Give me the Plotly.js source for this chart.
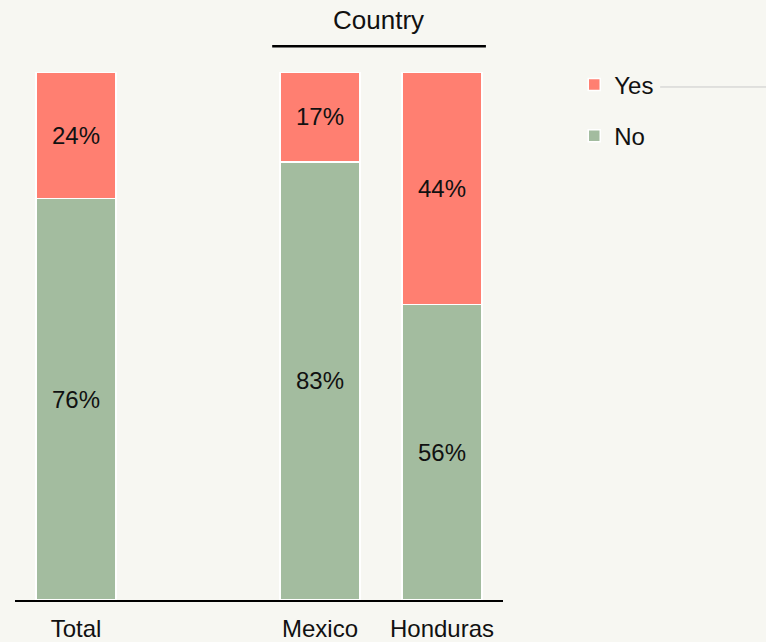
<!DOCTYPE html>
<html>
<head>
<meta charset="utf-8">
<script src="https://cdn.plot.ly/plotly-3.0.1.min.js"></script>
<style>
  html, body { margin: 0; padding: 0; background: #f7f7f2; }
  #chart { width: 766px; height: 642px; }
</style>
</head>
<body>
<div id="chart"></div>
<script>
// Categories along the x axis; the blank slot separates "Total" from the country group
const categories = ['Total', ' ', 'Mexico', 'Honduras'];
// Share of answers, in percent (null for the blank slot)
const noValues  = [76, null, 83, 56];
const yesValues = [24, null, 17, 44];
const seriesNames = ['No', 'Yes'];
const groupTitle = 'Country';

const FONT = 'Liberation Sans, Arial, Helvetica, sans-serif';
const INK = '#111111';

function pctText(vals) {
  return vals.map(v => (v === null ? '' : v + '%'));
}

const common = {
  type: 'bar',
  x: categories,
  textposition: 'inside',
  insidetextanchor: 'middle',
  textangle: 0,
  constraintext: 'none',
  textfont: { family: FONT, size: 24, color: INK },
  hoverinfo: 'skip'
};

const traces = [
  Object.assign({}, common, {
    name: seriesNames[0],
    y: noValues,
    text: pctText(noValues),
    legendgroup: 'no',
    legendrank: 2,
    marker: { color: '#a3bc9f', line: { color: '#ffffff', width: 1.5 } }
  }),
  Object.assign({}, common, {
    name: seriesNames[1],
    y: yesValues,
    text: pctText(yesValues),
    legendgroup: 'yes',
    legendrank: 1,
    marker: { color: '#ff7f71', line: { color: '#ffffff', width: 1.5 } }
  })
];

const layout = {
  width: 766,
  height: 642,
  margin: { l: 15, r: 263, t: 72, b: 42, pad: 0 },
  paper_bgcolor: '#f7f7f2',
  plot_bgcolor: '#f7f7f2',
  barmode: 'stack',
  bargap: 0.344,
  font: { family: FONT, size: 24, color: INK },
  showlegend: true,
  legend: {
    x: 1.146, xanchor: 'left',
    y: 1.018, yanchor: 'top',
    traceorder: 'grouped',
    tracegroupgap: 17,
    font: { family: FONT, size: 24, color: INK },
    bgcolor: 'rgba(0,0,0,0)',
    itemclick: false
  },
  xaxis: {
    type: 'category',
    categoryorder: 'array',
    categoryarray: categories,
    range: [-0.5, 3.5],
    showline: true,
    linecolor: '#000000',
    linewidth: 2,
    ticks: 'outside',
    ticklen: 6,
    tickcolor: 'rgba(0,0,0,0)',
    tickfont: { family: FONT, size: 24, color: INK },
    showgrid: false,
    zeroline: false,
    fixedrange: true
  },
  yaxis: {
    range: [0, 100],
    visible: false,
    showgrid: false,
    zeroline: false,
    fixedrange: true
  },
  shapes: [
    // rule under the group heading
    { type: 'line', xref: 'paper', yref: 'paper',
      x0: 0.527, x1: 0.965, y0: 1.049, y1: 1.049,
      line: { color: '#000000', width: 2.5 } },
    // thin guide line to the right of the legend
    { type: 'line', xref: 'paper', yref: 'paper',
      x0: 1.322, x1: 1.54, y0: 0.9716, y1: 0.9716,
      line: { color: '#c9c9c9', width: 1 } }
  ],
  annotations: [
    { text: groupTitle, xref: 'paper', yref: 'paper',
      x: 0.744, y: 1.098, xanchor: 'center', yanchor: 'middle',
      showarrow: false, font: { family: FONT, size: 26, color: INK } }
  ]
};

Plotly.newPlot('chart', traces, layout, { displayModeBar: false, staticPlot: true });
</script>
</body>
</html>
